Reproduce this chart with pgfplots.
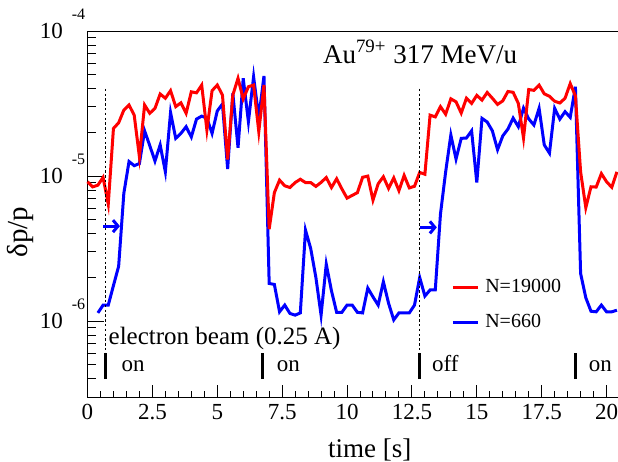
\documentclass[border=0pt]{standalone}
\usepackage{fontspec}
\setmainfont{Liberation Serif}
\usepackage{pgfplots}
\pgfplotsset{compat=1.18}
\usetikzlibrary{arrows.meta}

% ROOT-style power of ten: exponent raised well above the "10"
\newcommand{\tenpow}[1]{10\hspace{4.5pt}\smash{\raisebox{9.5pt}{\fontsize{8}{8}\selectfont #1}}}

\pgfplotstableread{
t v
0.0 9.14e-6
0.2 8.43e-6
0.4 8.66e-6
0.6 9.80e-6
0.8 6.41e-6
1.0 2.13e-5
1.2 2.33e-5
1.4 2.85e-5
1.6 3.09e-5
1.8 2.63e-5
2.0 1.36e-5
2.2 3.09e-5
2.4 2.71e-5
2.6 2.93e-5
2.8 3.68e-5
3.0 3.44e-5
3.2 3.88e-5
3.4 3.01e-5
3.6 3.20e-5
3.8 2.71e-5
4.0 3.81e-5
4.2 3.75e-5
4.4 4.24e-5
4.6 2.08e-5
4.8 3.88e-5
5.0 4.24e-5
5.2 3.62e-5
5.4 1.30e-5
5.6 3.62e-5
5.8 4.72e-5
6.0 3.40e-5
6.2 4.13e-5
6.4 4.24e-5
6.6 2.02e-5
6.8 4.24e-5
7.0 4.31e-6
7.2 7.69e-6
7.4 9.38e-6
7.6 8.57e-6
7.8 8.34e-6
8.0 9.02e-6
8.2 9.51e-6
8.4 9.02e-6
8.6 9.02e-6
8.8 8.49e-6
9.0 9.05e-6
9.2 9.77e-6
9.4 8.34e-6
9.6 9.58e-6
9.8 8.17e-6
10.0 7.05e-6
10.2 7.36e-6
10.4 7.69e-6
10.6 9.81e-6
10.8 1.00e-5
11.0 6.83e-6
11.2 8.85e-6
11.4 9.89e-6
11.6 8.23e-6
11.8 9.72e-6
12.0 7.94e-6
12.2 1.01e-5
12.4 8.29e-6
12.6 8.51e-6
12.8 1.06e-5
13.0 1.03e-5
13.2 2.63e-5
13.4 2.56e-5
13.6 3.01e-5
13.8 2.67e-5
14.0 3.41e-5
14.2 3.25e-5
14.4 2.72e-5
14.6 3.44e-5
14.8 3.17e-5
15.0 3.60e-5
15.2 3.34e-5
15.4 3.77e-5
15.6 3.44e-5
15.8 3.12e-5
16.0 3.30e-5
16.2 3.83e-5
16.4 3.78e-5
16.6 3.17e-5
16.8 1.83e-5
17.0 3.95e-5
17.2 3.90e-5
17.4 4.24e-5
17.6 3.69e-5
17.8 3.55e-5
18.0 3.28e-5
18.2 3.19e-5
18.4 3.44e-5
18.6 4.34e-5
18.8 3.57e-5
19.0 1.07e-5
19.2 6.06e-6
19.4 8.44e-6
19.6 8.40e-6
19.8 1.04e-5
20.0 9.14e-6
20.2 8.37e-6
20.4 1.07e-5
}\highN

\pgfplotstableread{
t v
0.4 1.14e-6
0.6 1.29e-6
0.8 1.29e-6
1.0 1.76e-6
1.2 2.39e-6
1.4 7.60e-6
1.6 1.26e-5
1.8 1.18e-5
2.0 1.22e-5
2.2 2.05e-5
2.4 1.62e-5
2.6 1.27e-5
2.8 1.64e-5
3.0 1.07e-5
3.2 2.74e-5
3.4 1.82e-5
3.6 1.97e-5
3.8 2.19e-5
4.0 1.86e-5
4.2 2.47e-5
4.4 2.59e-5
4.6 2.51e-5
4.8 1.97e-5
5.0 2.81e-5
5.2 3.14e-5
5.4 1.12e-5
5.6 3.72e-5
5.8 1.57e-5
6.0 4.72e-5
6.2 2.37e-5
6.4 4.84e-5
6.6 2.53e-5
6.8 4.90e-5
7.0 1.82e-6
7.2 1.79e-6
7.4 1.16e-6
7.6 1.29e-6
7.8 1.13e-6
8.0 1.10e-6
8.2 1.14e-6
8.4 4.24e-6
8.6 3.17e-6
8.8 2.00e-6
9.0 1.10e-6
9.2 2.47e-6
9.4 1.62e-6
9.6 1.15e-6
9.8 1.15e-6
10.0 1.29e-6
10.2 1.29e-6
10.4 1.15e-6
10.6 1.14e-6
10.8 1.69e-6
11.0 1.47e-6
11.2 1.29e-6
11.4 1.87e-6
11.6 1.33e-6
11.8 1.02e-6
12.0 1.14e-6
12.2 1.14e-6
12.4 1.14e-6
12.6 1.29e-6
12.8 2.00e-6
13.0 1.49e-6
13.2 1.64e-6
13.4 1.64e-6
13.6 5.47e-6
13.8 1.07e-5
14.0 1.92e-5
14.2 1.31e-5
14.4 1.82e-5
14.6 1.83e-5
14.8 2.05e-5
15.0 9.02e-6
15.2 2.50e-5
15.4 2.36e-5
15.6 2.05e-5
15.8 1.52e-5
16.0 1.89e-5
16.2 2.11e-5
16.4 2.51e-5
16.6 2.19e-5
16.8 2.94e-5
17.0 2.48e-5
17.2 2.25e-5
17.4 2.93e-5
17.6 1.64e-5
17.8 1.44e-5
18.0 2.93e-5
18.2 2.47e-5
18.4 2.78e-5
18.6 2.54e-5
18.8 4.13e-5
19.0 2.13e-6
19.2 1.45e-6
19.4 1.17e-6
19.6 1.16e-6
19.8 1.29e-6
20.0 1.16e-6
20.2 1.16e-6
20.4 1.19e-6
}\lowN

\begin{document}
\begin{tikzpicture}
\useasboundingbox (-43.75pt,-32.5pt) rectangle (265.25pt,198.5pt);
\begin{axis}[
  at={(0,0)}, anchor=south west, scale only axis,
  width=265.25pt, height=183pt,
  ymode=log, xmin=0, xmax=20.44, ymin=3e-7, ymax=1e-4,
  axis x line*=bottom, axis y line*=left,
  axis line style={line width=0.5pt},
  every tick/.style={black, line width=0.5pt},
  tick align=inside,
  xtick={0,2.5,5,7.5,10,12.5,15,17.5,20},
  xticklabels={0,2.5,5,7.5,10,12.5,15,17.5,20},
  minor x tick num=4,
  ytick={1e-6,1e-5,1e-4},
  yticklabels={\tenpow{-6},\tenpow{-5},\tenpow{-4}},
  minor ytick={3e-7,4e-7,5e-7,6e-7,7e-7,8e-7,9e-7,2e-6,3e-6,4e-6,5e-6,6e-6,7e-6,8e-6,9e-6,2e-5,3e-5,4e-5,5e-5,6e-5,7e-5,8e-5,9e-5},
  xtick style={/pgfplots/major tick length=6pt, /pgfplots/minor tick length=3pt},
  ytick style={/pgfplots/major tick length=8pt, /pgfplots/minor tick length=4.5pt},
  tick label style={font=\fontsize{11.5}{13}\selectfont},
  yticklabel style={inner sep=1pt},
  xlabel={time [s]}, ylabel={δp/p},
  every axis x label/.style={at={(axis description cs:0.532,-0.164)}, anchor=base, font=\fontsize{13.5}{15}\selectfont},
  every axis y label/.style={at={(axis description cs:-0.127,0.451)}, rotate=90, anchor=center, font=\fontsize{14.5}{16}\selectfont},
  clip=false,
  reverse legend,
  legend cell align=left,
  legend image code/.code={\draw[#1] (0pt,0pt) -- (12.5pt,0pt);},
  legend style={draw=none, fill=none, at={(axis description cs:0.685,0.2516)}, anchor=west,
    inner sep=0pt, row sep=9pt, column sep=3pt, nodes={inner sep=0pt},
    font=\fontsize{10}{12}\selectfont},
]
\addplot[blue, line width=1.5pt] table[x=t, y=v] {\lowN};
\addlegendentry{N=660}
\addplot[red, line width=1.5pt] table[x=t, y=v] {\highN};
\addlegendentry{N=19000}

% beam switching marks
\draw[dash pattern=on 1.2pt off 1.2pt, line width=0.5pt] (axis cs:0.68,4e-5) -- (axis cs:0.68,6e-7);
\draw[dash pattern=on 1.2pt off 1.2pt, line width=0.5pt] (axis cs:12.79,4e-5) -- (axis cs:12.79,6e-7);
\draw[line width=1.5pt] (axis cs:0.68,3.98e-7) -- (axis cs:0.68,6.0e-7);
\draw[line width=1.5pt] (axis cs:6.76,3.98e-7) -- (axis cs:6.76,6.0e-7);
\draw[line width=1.5pt] (axis cs:12.79,3.98e-7) -- (axis cs:12.79,6.0e-7);
\draw[line width=1.5pt] (axis cs:18.79,3.98e-7) -- (axis cs:18.79,6.0e-7);
\node[anchor=base west, inner sep=0pt, font=\fontsize{11.5}{13}\selectfont] at (axis cs:1.30,4.47e-7) {on};
\node[anchor=base west, inner sep=0pt, font=\fontsize{11.5}{13}\selectfont] at (axis cs:7.28,4.47e-7) {on};
\node[anchor=base west, inner sep=0pt, font=\fontsize{11.5}{13}\selectfont] at (axis cs:13.26,4.47e-7) {off};
\node[anchor=base west, inner sep=0pt, font=\fontsize{11.5}{13}\selectfont] at (axis cs:19.30,4.47e-7) {on};
\node[anchor=base west, inner sep=0pt, font=\fontsize{12.5}{14}\selectfont] at (axis cs:0.80,6.94e-7) {electron beam (0.25 A)};
\draw[blue, line width=1.5pt, -{Straight Barb[length=2.5pt,width=6pt]}] (axis cs:0.61,4.52e-6) -- (axis cs:1.25,4.52e-6);
\draw[blue, line width=1.5pt, -{Straight Barb[length=2.5pt,width=6pt]}] (axis cs:12.81,4.43e-6) -- (axis cs:13.46,4.43e-6);
\node[anchor=base west, inner sep=0pt, font=\fontsize{13.5}{15}\selectfont] at (axis cs:9.06,6.0e-5) {Au\textsuperscript{79+} 317 MeV/u};
\draw[line width=0.5pt] (rel axis cs:0,1) -- (rel axis cs:1,1);
\end{axis}
\end{tikzpicture}
\end{document}
